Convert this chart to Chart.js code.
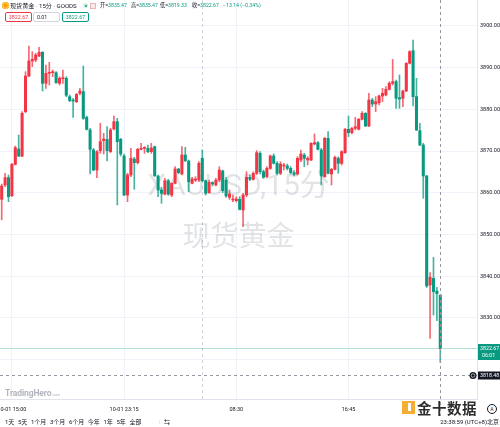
<!DOCTYPE html>
<html lang="zh-CN">
<head>
<meta charset="UTF-8"/>
<title>现货黄金 · 15分 · GOODS</title>
<script src="https://cdn.jsdelivr.net/npm/chart.js"></script>
<style>
    body { margin: 0; background: #fff; font-family: Roboto, "Noto Sans CJK SC", sans-serif; color: #131722; }
    #wrap { position: relative; width: 500px; height: 427px; overflow: hidden; }
    #chart { position: absolute; left: 0; top: 0; }
    .abs { position: absolute; white-space: nowrap; }
    .coin { left: 2px; top: 2px; width: 7px; height: 7px; border-radius: 50%; background: #f5a000; box-shadow: inset 0 0 0 1.5px #f8c24a; }
    .sym { left: 10px; top: 1px; font-size: 6.1px; line-height: 9px; }
    .dot { left: 83px; top: 3px; width: 5px; height: 5px; border-radius: 50%; background: #cdeee6; }
    .dot:after { content: ''; position: absolute; left: 1.5px; top: 1.5px; width: 2px; height: 2px; border-radius: 50%; background: #089981; }
    .sq { left: 90px; top: 3px; width: 4px; height: 4px; border: 0.5px solid #e8b4b4; background: #fbe9e9; }
    .ohlc { top: 1px; font-size: 5.2px; line-height: 9px; }
    .ohlc b { font-weight: normal; color: #089981; }
    .box { top: 12px; height: 8px; width: 25px; font-size: 5.3px; line-height: 8px; text-align: center; border-radius: 2px; background: #fff; }
    .logo { left: 5px; top: 388px; font-size: 8.5px; font-weight: bold; color: #b2b5be; letter-spacing: -0.1px; }
    .logo small { font-size: 4px; font-weight: normal; }
    #bar { left: 5px; top: 416px; font-size: 6px; line-height: 11px; display: flex; gap: 3.6px; }
    .clock { right: 1px; top: 416px; font-size: 6px; line-height: 11px; }
    .jin { left: 402px; top: 399px; height: 17px; display: flex; align-items: center; opacity: 0.92; }
    .jin i { display: block; width: 13px; height: 13px; background: #f5a623; margin-right: 2px; position: relative; }
    .jin i:after { content: ''; position: absolute; left: 6px; top: 2px; width: 3px; height: 8px; background: #fff; }
    .jin span { font-size: 14.5px; font-weight: bold; color: #1b1b1b; letter-spacing: 0.5px; text-shadow: 0 0 1px #fff; }
    .auto { left: 487px; top: 404px; width: 8px; height: 8px; border-radius: 50%; border: 0.7px solid #131722; font-size: 5px; line-height: 8px; text-align: center; background: #fff; }
</style>
</head>
<body>
<div id="wrap">
    <canvas id="chart" width="500" height="416"></canvas>
    <div class="abs coin"></div>
    <div class="abs sym">现货黄金 · 15分 · GOODS</div>
    <div class="abs dot"></div>
    <div class="abs sq"></div>
    <div id="ohlc"></div>
    <div id="boxes"></div>
    <div class="abs logo">TradingHero<small>.com</small></div>
    <div class="abs jin"><i></i><span>金十数据</span></div>
    <div class="abs auto">A</div>
    <div class="abs" id="bar"></div>
    <div class="abs clock" id="clock"></div>
</div>

<script>
// 15分K线
const opens = [
    3858.43, 3861.87, 3863.63, 3859.31, 3866.82, 3870.50, 3868.80, 3879.46, 3888.00, 3891.60,
    3891.85, 3892.80, 3893.68, 3886.25, 3888.65, 3888.80, 3888.80, 3886.25, 3887.37, 3887.45,
    3883.05, 3882.25, 3881.85, 3883.85, 3884.25, 3878.10, 3875.06, 3870.26, 3865.47, 3870.10,
    3872.50, 3872.82, 3869.86, 3875.30, 3877.06, 3872.82, 3868.82, 3859.47, 3864.27, 3868.10,
    3867.22, 3870.42, 3870.66, 3870.66, 3869.86, 3871.06, 3864.02, 3860.67, 3859.71, 3862.90,
    3859.47, 3862.27, 3865.70, 3864.50, 3869.06, 3867.62, 3862.27, 3863.06, 3863.06, 3868.26,
    3862.90, 3860.03, 3862.43, 3861.87, 3863.06, 3865.22, 3863.06, 3858.91, 3858.27, 3858.11,
    3858.43, 3855.87, 3859.47, 3863.70, 3863.22, 3864.66, 3869.46, 3865.06, 3863.86, 3865.86,
    3868.82, 3867.06, 3864.66, 3866.42, 3866.42, 3865.86, 3864.82, 3864.50, 3867.86, 3869.06,
    3867.86, 3867.86, 3871.70, 3872.02, 3870.26, 3863.87, 3873.06, 3864.51, 3865.63, 3868.26,
    3867.06, 3869.62, 3875.22, 3874.42, 3875.46, 3875.22, 3877.62, 3879.06, 3876.02, 3882.25,
    3881.29, 3881.61, 3883.21, 3883.45, 3884.81, 3886.25, 3886.65, 3882.81, 3882.65, 3884.41,
    3891.05, 3894.08, 3883.05, 3874.90, 3871.46, 3864.03, 3837.89, 3839.48, 3836.45, 3835.47
];
const highs = [
    3862.10, 3864.67, 3864.27, 3867.06, 3871.20, 3873.86, 3879.46, 3889.05, 3895.20, 3893.85,
    3893.45, 3894.88, 3893.85, 3890.65, 3891.30, 3889.45, 3889.05, 3887.85, 3889.45, 3887.85,
    3883.45, 3882.65, 3883.85, 3885.05, 3890.40, 3878.40, 3875.46, 3870.66, 3870.10, 3876.66,
    3874.26, 3875.86, 3875.46, 3878.40, 3877.86, 3873.06, 3869.30, 3864.67, 3870.66, 3868.50,
    3870.66, 3871.86, 3871.06, 3871.46, 3871.86, 3871.22, 3864.26, 3861.31, 3863.46, 3863.22,
    3862.43, 3866.26, 3865.86, 3871.06, 3870.90, 3867.86, 3863.70, 3863.86, 3867.46, 3870.26,
    3863.06, 3863.06, 3862.67, 3863.46, 3866.26, 3865.46, 3863.70, 3860.67, 3859.47, 3859.07,
    3859.07, 3859.87, 3865.06, 3864.26, 3865.06, 3870.10, 3869.86, 3865.46, 3866.26, 3869.06,
    3869.30, 3867.46, 3867.46, 3867.06, 3866.90, 3866.26, 3865.30, 3868.66, 3870.26, 3869.46,
    3868.66, 3872.02, 3874.10, 3872.26, 3870.66, 3873.30, 3874.66, 3865.87, 3868.82, 3868.66,
    3870.10, 3875.46, 3878.42, 3875.70, 3878.10, 3877.86, 3879.46, 3879.22, 3883.85, 3882.65,
    3883.05, 3883.45, 3885.05, 3885.45, 3886.65, 3892.01, 3887.05, 3888.25, 3884.65, 3891.21,
    3894.08, 3896.64, 3887.45, 3876.66, 3871.86, 3864.20, 3840.84, 3844.52, 3837.33, 3835.47
];
const lows = [
    3853.50, 3861.47, 3857.87, 3859.07, 3866.66, 3868.66, 3868.66, 3879.20, 3887.85, 3890.25,
    3891.45, 3892.65, 3884.40, 3885.05, 3885.85, 3887.85, 3886.25, 3885.85, 3886.25, 3883.05,
    3881.85, 3878.10, 3881.60, 3883.45, 3877.60, 3875.06, 3864.50, 3865.30, 3863.63, 3869.46,
    3869.30, 3867.62, 3869.62, 3875.06, 3857.07, 3868.82, 3859.31, 3857.87, 3863.87, 3860.83,
    3866.90, 3870.26, 3869.46, 3869.62, 3869.46, 3863.87, 3859.07, 3857.47, 3859.47, 3859.39,
    3859.07, 3862.11, 3864.50, 3864.26, 3867.46, 3860.27, 3862.11, 3862.67, 3862.67, 3862.67,
    3859.47, 3859.87, 3861.63, 3861.63, 3862.67, 3860.03, 3858.91, 3858.43, 3857.87, 3857.79,
    3855.87, 3851.87, 3859.07, 3862.90, 3863.06, 3864.34, 3864.50, 3863.46, 3863.54, 3865.62,
    3866.90, 3864.26, 3864.34, 3865.46, 3865.46, 3864.50, 3864.02, 3864.26, 3867.46, 3866.26,
    3866.66, 3867.70, 3871.46, 3870.26, 3861.87, 3863.71, 3864.51, 3861.87, 3865.47, 3864.67,
    3866.66, 3869.46, 3873.46, 3874.10, 3875.06, 3875.06, 3877.46, 3875.86, 3875.86, 3880.65,
    3879.46, 3881.05, 3881.85, 3883.21, 3884.65, 3885.85, 3880.25, 3880.25, 3880.65, 3884.25,
    3890.89, 3880.81, 3874.90, 3871.30, 3858.67, 3837.30, 3825.09, 3830.69, 3829.33, 3819.33
];
const closes = [
    3861.63, 3863.63, 3859.07, 3866.82, 3870.82, 3868.80, 3879.06, 3888.00, 3891.60, 3892.00,
    3893.05, 3893.68, 3886.25, 3888.65, 3888.90, 3889.05, 3886.40, 3887.45, 3887.60, 3883.37,
    3882.10, 3882.00, 3883.60, 3884.40, 3877.86, 3875.20, 3870.42, 3865.47, 3869.86, 3872.26,
    3872.90, 3870.10, 3875.06, 3877.06, 3872.26, 3869.30, 3859.47, 3864.27, 3868.26, 3867.22,
    3870.42, 3870.66, 3870.90, 3869.86, 3870.74, 3864.11, 3860.67, 3859.87, 3862.90, 3859.71,
    3862.27, 3865.70, 3864.82, 3869.06, 3867.70, 3862.67, 3863.30, 3863.30, 3867.06, 3862.90,
    3859.87, 3862.51, 3862.11, 3863.06, 3865.46, 3860.51, 3859.23, 3859.71, 3858.51, 3858.51,
    3856.03, 3859.47, 3863.70, 3863.22, 3864.66, 3869.62, 3865.06, 3863.70, 3865.86, 3868.82,
    3867.06, 3864.66, 3866.90, 3866.66, 3865.86, 3864.82, 3864.42, 3868.26, 3869.30, 3868.26,
    3868.26, 3871.86, 3872.02, 3870.42, 3864.03, 3873.06, 3864.67, 3865.63, 3868.50, 3867.06,
    3869.86, 3875.22, 3874.42, 3875.46, 3875.86, 3877.62, 3879.06, 3876.02, 3882.25, 3881.29,
    3881.85, 3883.21, 3883.85, 3884.81, 3886.25, 3886.65, 3882.65, 3882.49, 3884.41, 3891.05,
    3893.84, 3883.05, 3875.06, 3871.46, 3864.03, 3837.65, 3839.72, 3836.29, 3835.81, 3822.67
];

// 坐标轴
const yTicks = [3820, 3830, 3840, 3850, 3860, 3870, 3880, 3890, 3900];
const timeTicks = [4, 37, 70, 103];
const timeLabels = ['10-01 15:00', '10-01 23:15', '08:30', '16:45'];
const sessionBreak = 59.8;

// 十字光标 / 其它文字
const crossIndex = 130;
const crossPrice = 3816.3;
const crossLabel = '3818.48';
const countdown = '06:01';
const spread = '0.01';
const watermark = ['XAUUSD,15分', '现货黄金'];
const rangeButtons = ['1天', '5天', '1个月', '3个月', '6个月', '今年', '1年', '5年', '全部'];
const clockText = '23:38:59 (UTC+8)北京';

const RED = '#f23645';
const GREEN = '#089981';

window.onload = function () {
    const n = closes.length;
    const last = n - 1;
    const idx = closes.map((c, i) => i + 1);
    const up = closes.map((c, i) => c >= opens[i]);

    // 头部 OHLC
    const chg = closes[last] - closes[last - 1];
    const pct = chg / closes[last - 1] * 100;
    const sign = chg < 0 ? '−' : '+';
    const parts = [
        ['开', opens[last].toFixed(2), 100],
        ['高', highs[last].toFixed(2), 131],
        ['低', lows[last].toFixed(2), 160],
        ['收', closes[last].toFixed(2), 192]
    ];
    let html = parts.map(p => '<div class="abs ohlc" style="left:' + p[2] + 'px">' + p[0] + '=<b>' + p[1] + '</b></div>').join('');
    html += '<div class="abs ohlc" style="left:223px"><b>' + sign + Math.abs(chg).toFixed(2) + ' (' + sign + Math.abs(pct).toFixed(2) + '%)</b></div>';
    document.getElementById('ohlc').innerHTML = html;

    const px = closes[last].toFixed(2);
    document.getElementById('boxes').innerHTML =
        '<div class="abs box" style="left:5px;border:0.7px solid ' + RED + ';color:' + RED + '">' + px + '</div>' +
        '<div class="abs box" style="left:33px;border:0.7px solid #d1d4dc;text-align:left;padding-left:3px;width:22px">' + spread + '</div>' +
        '<div class="abs box" style="left:62px;border:0.7px solid ' + GREEN + ';color:' + GREEN + '">' + px + '</div>';

    document.getElementById('bar').innerHTML = rangeButtons.map(t => '<span>' + t + '</span>').join('') +
        '<span style="color:#d1d4dc;margin-left:14px">|</span><span>⇆</span>';
    document.getElementById('clock').textContent = clockText;

    const overlay = {
        id: 'overlay',
        beforeDatasetsDraw(chart) {
            const { ctx, chartArea: a, scales: { x } } = chart;
            ctx.save();
            // 交易时段分隔
            const sx = Math.round(x.getPixelForValue(sessionBreak)) + 0.5;
            ctx.strokeStyle = '#d1d4dc';
            ctx.lineWidth = 1;
            ctx.setLineDash([3, 3]);
            ctx.beginPath();
            ctx.moveTo(sx, a.top);
            ctx.lineTo(sx, a.bottom);
            ctx.stroke();
            ctx.setLineDash([]);
            // 水印
            const cx = (a.left + a.right) / 2;
            const cy = (a.top + a.bottom) / 2;
            ctx.fillStyle = 'rgba(19,23,34,0.12)';
            ctx.textAlign = 'center';
            ctx.textBaseline = 'middle';
            ctx.font = '30px Roboto, "Noto Sans CJK SC", sans-serif';
            ctx.fillText(watermark[0], cx, cy - 12);
            ctx.font = '28px "Noto Sans CJK SC", sans-serif';
            ctx.fillText(watermark[1], cx, cy + 36);
            ctx.restore();
        },
        afterDraw(chart) {
            const { ctx, chartArea: a, scales: { x, y } } = chart;
            ctx.save();
            // 现价线
            const py = Math.round(y.getPixelForValue(closes[last])) + 0.5;
            ctx.strokeStyle = 'rgba(8,153,129,0.3)';
            ctx.lineWidth = 1;
            ctx.beginPath();
            ctx.moveTo(a.left, py);
            ctx.lineTo(a.right, py);
            ctx.stroke();

            // 十字光标
            const cxp = Math.round(x.getPixelForValue(crossIndex)) + 0.5;
            const cyp = Math.round(y.getPixelForValue(crossPrice)) + 0.5;
            ctx.strokeStyle = '#9598a1';
            ctx.setLineDash([3, 3]);
            ctx.beginPath();
            ctx.moveTo(cxp, 0);
            ctx.lineTo(cxp, chart.height);
            ctx.moveTo(a.left, cyp);
            ctx.lineTo(a.right, cyp);
            ctx.stroke();
            ctx.setLineDash([]);

            // 右侧价格标签
            ctx.fillStyle = GREEN;
            ctx.fillRect(a.right + 1, py - 4.5, chart.width - a.right - 1, 16);
            ctx.fillStyle = '#fff';
            ctx.font = '5.3px Roboto, sans-serif';
            ctx.textAlign = 'left';
            ctx.textBaseline = 'middle';
            ctx.fillText(closes[last].toFixed(2), a.right + 3, py);
            ctx.fillText(countdown, a.right + 5, py + 7);

            ctx.fillStyle = '#131722';
            ctx.fillRect(a.right + 1, cyp - 4, chart.width - a.right - 1, 8);
            ctx.beginPath();
            ctx.arc(a.right - 4, cyp, 3.5, 0, Math.PI * 2);
            ctx.fill();
            ctx.strokeStyle = '#fff';
            ctx.lineWidth = 0.6;
            ctx.beginPath();
            ctx.arc(a.right - 4, cyp, 1.8, 0, Math.PI * 2);
            ctx.stroke();
            ctx.fillStyle = '#fff';
            ctx.fillText(crossLabel, a.right + 3, cyp + 0.5);

            // 时间轴
            ctx.fillStyle = '#131722';
            ctx.textAlign = 'center';
            ctx.font = '5.5px Roboto, sans-serif';
            timeTicks.forEach((t, i) => {
                ctx.fillText(timeLabels[i], x.getPixelForValue(t), a.bottom + 11);
            });
            ctx.restore();
        }
    };

    const data = {
        datasets: [
            {
                label: '实体',
                data: idx.map(i => ({ x: i, y: [opens[i - 1], closes[i - 1]] })),
                backgroundColor: up.map(u => u ? RED : GREEN),
                barThickness: 2.4,
                minBarLength: 1,
                grouped: false,
                order: 0
            },
            {
                label: '影线',
                data: idx.map(i => ({ x: i, y: [lows[i - 1], highs[i - 1]] })),
                backgroundColor: up.map(u => u ? 'rgba(242,54,69,0.75)' : 'rgba(8,153,129,0.75)'),
                barThickness: 1,
                grouped: false,
                order: 1
            }
        ]
    };

    Chart.defaults.font.family = 'Roboto, "Noto Sans CJK SC", sans-serif';

    const config = {
        type: 'bar',
        data: data,
        options: {
            responsive: false,
            animation: false,
            devicePixelRatio: 1,
            layout: { padding: 0 },
            plugins: { legend: { display: false }, tooltip: { enabled: false } },
            scales: {
                x: {
                    type: 'linear',
                    offset: false,
                    min: 0.5,
                    max: 140.8,
                    afterBuildTicks: s => { s.ticks = timeTicks.map(v => ({ value: v })); },
                    afterFit: s => { s.height = 17; s.paddingLeft = 0; s.paddingRight = 0; },
                    ticks: { display: false },
                    grid: { color: '#f0f3fa', drawTicks: false, offset: false },
                    border: { color: '#e0e3eb' }
                },
                y: {
                    type: 'linear',
                    position: 'right',
                    min: 3810.55,
                    max: 3906.23,
                    afterBuildTicks: s => { s.ticks = yTicks.map(v => ({ value: v })); },
                    afterFit: s => { s.width = 23; s.paddingTop = 0; s.paddingBottom = 0; },
                    ticks: {
                        color: '#131722',
                        font: { size: 5.5 },
                        padding: 3,
                        callback: v => v === 3820 ? '' : v.toFixed(2)
                    },
                    grid: { color: '#f0f3fa', drawTicks: false },
                    border: { color: '#e0e3eb' }
                }
            }
        },
        plugins: [overlay]
    };

    new Chart(document.getElementById('chart').getContext('2d'), config);
};
</script>
</body>
</html>
